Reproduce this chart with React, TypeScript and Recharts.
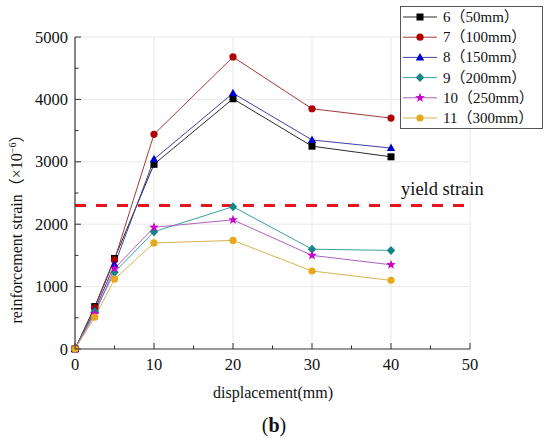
import React from 'react';
import { LineChart, Line, XAxis, YAxis, ReferenceLine } from 'recharts';

const displacement = [0, 2.5, 5, 10, 20, 30, 40];
const s6 = [0, 680, 1450, 2960, 4010, 3250, 3080];
const s7 = [0, 660, 1430, 3440, 4680, 3850, 3700];
const s8 = [0, 620, 1350, 3040, 4100, 3350, 3220];
const s9 = [0, 600, 1230, 1880, 2280, 1600, 1580];
const s10 = [0, 560, 1290, 1950, 2070, 1500, 1350];
const s11 = [0, 510, 1120, 1700, 1740, 1250, 1100];

const xTicks = [0, 5, 10, 15, 20, 25, 30, 35, 40, 45, 50];
const yTicks = [0, 500, 1000, 1500, 2000, 2500, 3000, 3500, 4000, 4500, 5000];
const xGrid = [10, 20, 30, 40, 50];
const yGrid = [1000, 2000, 3000, 4000, 5000];
const yieldStrain = 2300;

const FONT = "'Liberation Serif', 'Times New Roman', 'Noto Sans CJK SC', serif";

const series = [
  { key: 's6', name: '6（50mm）', values: s6, line: '#2b2b2b', fill: '#000000', shape: 'square' },
  { key: 's7', name: '7（100mm）', values: s7, line: '#a33a3a', fill: '#b00000', shape: 'circle' },
  { key: 's8', name: '8（150mm）', values: s8, line: '#4040a8', fill: '#0000cc', shape: 'triangle' },
  { key: 's9', name: '9（200mm）', values: s9, line: '#3aa0a0', fill: '#138585', shape: 'diamond' },
  { key: 's10', name: '10（250mm）', values: s10, line: '#b060c0', fill: '#cc00cc', shape: 'star' },
  { key: 's11', name: '11（300mm）', values: s11, line: '#d8b450', fill: '#e8a81c', shape: 'circle' },
];

const data = displacement.map((d, i) => {
  const row: Record<string, number> = { x: d };
  series.forEach(s => { row[s.key] = s.values[i]; });
  return row;
});

function Marker({ shape, cx, cy, fill }: { shape: string; cx: number; cy: number; fill: string }) {
  if (shape === 'square') {
    return <rect x={cx - 3.5} y={cy - 3.5} width={7} height={7} fill={fill} />;
  }
  if (shape === 'triangle') {
    return <polygon points={`${cx},${cy - 4.5} ${cx + 4.2},${cy + 3} ${cx - 4.2},${cy + 3}`} fill={fill} />;
  }
  if (shape === 'diamond') {
    return <polygon points={`${cx},${cy - 4.5} ${cx + 4.2},${cy} ${cx},${cy + 4.5} ${cx - 4.2},${cy}`} fill={fill} />;
  }
  if (shape === 'star') {
    const pts: string[] = [];
    for (let k = 0; k < 10; k++) {
      const r = k % 2 === 0 ? 5 : 2.1;
      const a = -Math.PI / 2 + (k * Math.PI) / 5;
      pts.push(`${cx + r * Math.cos(a)},${cy + r * Math.sin(a)}`);
    }
    return <polygon points={pts.join(' ')} fill={fill} />;
  }
  return <circle cx={cx} cy={cy} r={3.6} fill={fill} />;
}

const XTick = (props: any) => {
  const { x, y, payload } = props;
  const major = payload.value % 10 === 0;
  return (
    <g>
      <line x1={x} x2={x} y1={y} y2={y - (major ? 6 : 3.5)} stroke="#333" strokeWidth={1} />
      {major && (
        <text x={x} y={y + 21} textAnchor="middle" fontSize={16.5} fontFamily={FONT} fill="#111">
          {payload.value}
        </text>
      )}
    </g>
  );
};

const YTick = (props: any) => {
  const { x, y, payload } = props;
  const major = payload.value % 1000 === 0;
  return (
    <g>
      <line x1={x} x2={x + (major ? 6 : 3.5)} y1={y} y2={y} stroke="#333" strokeWidth={1} />
      {major && (
        <text x={x - 7} y={y + 5.5} textAnchor="end" fontSize={16.5} fontFamily={FONT} fill="#111">
          {payload.value}
        </text>
      )}
    </g>
  );
};

const YieldLabel = (props: any) => {
  const vb = props.viewBox || { x: 75, y: 207, width: 395 };
  return (
    <text x={vb.x + vb.width - 69} y={vb.y - 10} fontSize={18.5} fontFamily={FONT} fill="#111">
      yield strain
    </text>
  );
};

const YTitle = () => (
  <text
    x={22}
    y={225}
    transform="rotate(-90 22 225)"
    textAnchor="middle"
    fontSize={16}
    fontFamily={FONT}
    fill="#111"
  >
    reinforcement strain（×10
    <tspan dy={-6} fontSize={10}>−6</tspan>
    <tspan dy={6}>）</tspan>
  </text>
);

const XTitle = () => (
  <g>
    <text x={273} y={398} textAnchor="middle" fontSize={16} fontFamily={FONT} fill="#111">
      displacement(mm)
    </text>
    <text x={274} y={432} textAnchor="middle" fontSize={20} fontFamily={FONT} fill="#111">
      (<tspan fontWeight="bold">b</tspan>)
    </text>
  </g>
);

const LegendBox = () => (
  <svg width={143} height={123} style={{ display: 'block' }}>
    <rect x={0.5} y={0.5} width={142} height={122} fill="#fff" stroke="#555" strokeWidth={1} />
    {series.map((s, i) => {
      const cy = 11 + i * 20.2;
      return (
        <g key={s.key}>
          <line x1={3} x2={37} y1={cy} y2={cy} stroke={s.line} strokeWidth={1} />
          <Marker shape={s.shape} cx={20} cy={cy} fill={s.fill} />
          <text x={43} y={cy + 5} fontSize={15} fontFamily={FONT} fill="#111">
            {s.name}
          </text>
        </g>
      );
    })}
  </svg>
);

export default function App() {
  return (
    <div style={{ position: 'absolute', left: 0, top: 0, width: 550, height: 441, background: '#fff', fontFamily: FONT }}>
      <LineChart
        width={550}
        height={441}
        data={data}
        margin={{ top: 37, right: 80, bottom: 62, left: 15 }}
        style={{ fontFamily: FONT }}
      >
        {xGrid.map(v => (
          <ReferenceLine key={`gx${v}`} x={v} stroke="#e9e9e9" strokeWidth={1} />
        ))}
        {yGrid.map(v => (
          <ReferenceLine key={`gy${v}`} y={v} stroke="#e9e9e9" strokeWidth={1} />
        ))}
        <XAxis
          dataKey="x"
          type="number"
          domain={[0, 50]}
          ticks={xTicks}
          interval={0}
          height={30}
          tickSize={0}
          tickMargin={0}
          tick={<XTick />}
          axisLine={{ stroke: '#333', strokeWidth: 1.2 }}
          label={<XTitle />}
        />
        <YAxis
          type="number"
          domain={[0, 5000]}
          ticks={yTicks}
          interval={0}
          width={60}
          tickSize={0}
          tickMargin={0}
          tick={<YTick />}
          axisLine={{ stroke: '#333', strokeWidth: 1.2 }}
          label={<YTitle />}
        />
        <ReferenceLine
          y={yieldStrain}
          stroke="#e8141c"
          strokeWidth={3}
          strokeDasharray="11 10"
          label={<YieldLabel />}
        />
        {series.map(s => (
          <Line
            key={s.key}
            dataKey={s.key}
            name={s.name}
            stroke={s.line}
            strokeWidth={1}
            isAnimationActive={false}
            dot={(p: any) => <Marker key={`${s.key}-${p.index}`} shape={s.shape} cx={p.cx} cy={p.cy} fill={s.fill} />}
            activeDot={false}
          />
        ))}
      </LineChart>
      <div style={{ position: 'absolute', left: 400, top: 6 }}>
        <LegendBox />
      </div>
    </div>
  );
}
